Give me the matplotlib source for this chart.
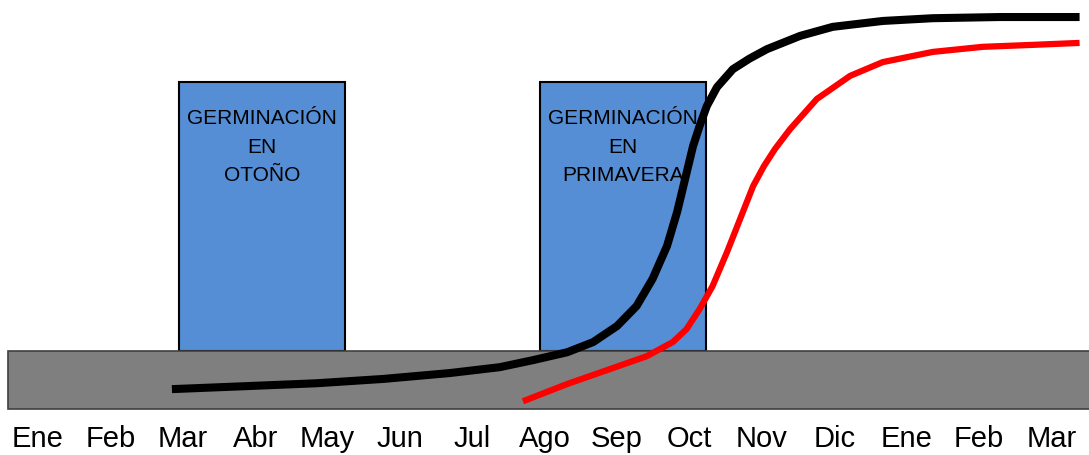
import matplotlib.pyplot as plt
from matplotlib.patches import Rectangle

# month labels (two seasons)
months = ['Ene', 'Feb', 'Mar', 'Abr', 'May', 'Jun', 'Jul', 'Ago', 'Sep',
          'Oct', 'Nov', 'Dic', 'Ene', 'Feb', 'Mar']

# germination windows (month index, start/end) and labels
box_starts = [1.95, 6.93]
box_ends = [4.24, 9.23]
box_labels = ['GERMINACIÓN\nEN\nOTOÑO', 'GERMINACIÓN\nEN\nPRIMAVERA']
box_top = 83.4

# cumulative curves (x in months, y in %)
black_x = [1.85, 2.93, 3.85, 4.77, 5.69, 6.38, 6.84, 7.31, 7.67, 8.00,
           8.27, 8.49, 8.69, 8.83, 8.94, 9.05, 9.14, 9.24, 9.38, 9.60,
           9.83, 10.07, 10.53, 10.98, 11.67, 12.36, 13.29, 14.39]
black_y = [5.1, 5.9, 6.6, 7.7, 9.2, 10.7, 12.5, 14.5, 17.1, 21.2,
           26.3, 33.2, 41.6, 50.3, 58.7, 67.1, 72.2, 77.3, 82.1, 86.7,
           89.4, 91.8, 95.2, 97.5, 99.0, 99.7, 100.0, 100.0]

red_x = [6.70, 7.31, 7.90, 8.41, 8.77, 8.96, 9.14, 9.32, 9.52, 9.70,
         9.88, 10.03, 10.18, 10.39, 10.76, 11.22, 11.67, 12.36, 13.05, 13.74, 14.39]
red_y = [2.0, 6.4, 10.2, 13.5, 17.1, 20.4, 25.5, 31.4, 40.1, 48.5,
         56.9, 62.0, 66.3, 71.4, 79.1, 85.0, 88.5, 91.1, 92.4, 92.9, 93.4]

band_top = 14.8

fam = ['Liberation Sans', 'DejaVu Sans']

fig = plt.figure(figsize=(10.89, 4.56), dpi=100)
ax = fig.add_axes([0, 0, 1, 1])
ax.set_xlim(-0.525, 14.52)
ax.set_ylim(-11.7, 104.6)
ax.axis('off')

# boxes
for s, e, lab in zip(box_starts, box_ends, box_labels):
    ax.add_patch(Rectangle((s, band_top), e - s, box_top - band_top,
                           facecolor='#558ED5', edgecolor='black', lw=1.5, zorder=1))
    ax.text((s + e) / 2, 67.1, lab, ha='center', va='center', fontsize=15,
            family=fam, linespacing=1.65, color='black', zorder=2)

# gray soil band
ax.add_patch(Rectangle((-0.41, 0), 16, band_top, facecolor='#7F7F7F',
                       edgecolor='#404040', lw=1.2, zorder=2))

ax.plot(black_x, black_y, color='black', lw=5.8, solid_capstyle='butt',
        solid_joinstyle='round', zorder=4)
ax.plot(red_x, red_y, color='#FF0000', lw=4.5, solid_capstyle='butt',
        solid_joinstyle='round', zorder=3)

for i, m in enumerate(months):
    ax.text(i, -7.3, m, ha='center', va='center', fontsize=21, family=fam)

fig.savefig('out.png', dpi=100)
